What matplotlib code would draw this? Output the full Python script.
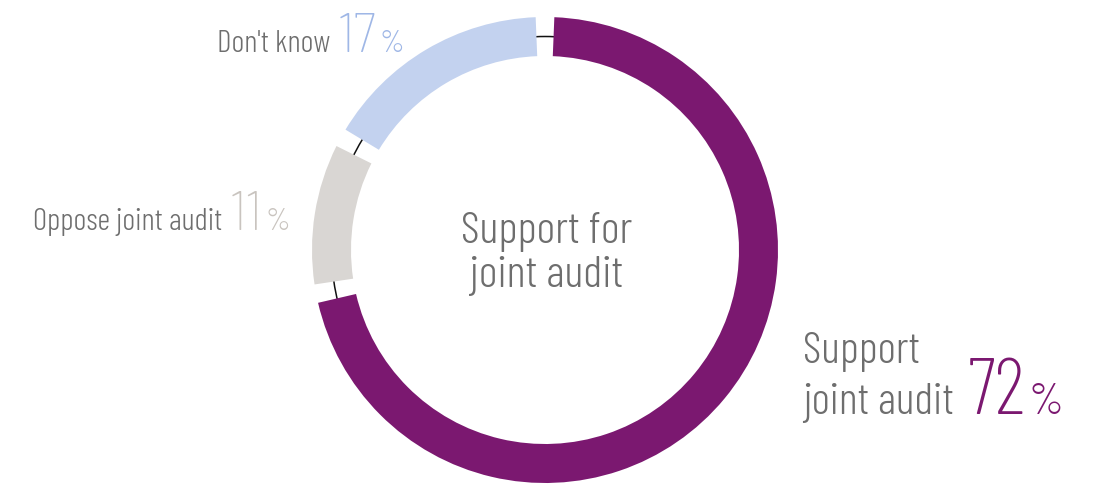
import matplotlib
matplotlib.use("Agg")
import matplotlib.pyplot as plt
from matplotlib.patches import Circle

# Data
labels = [["Support", "joint audit"], ["Oppose joint audit"], ["Don't know"]]
values = [72, 11, 17]
colors = ["#7B1870", "#D9D6D3", "#C3D2EF"]
num_colors = ["#7B1870", "#C9C4BF", "#9FB7E6"]
center_label = ["Support for", "joint audit"]

FONT = "Barlow Condensed"
NUM_FONT = "Barlow Semi Condensed"
GRAY = "#6E6E6E"
H = 486

fig = plt.figure(figsize=(11, 4.86), dpi=100)
ax = fig.add_axes([0, 0, 1, 1])

cx, cy, r_out, ring = 545, H - 250, 233, 39

# thin black circle behind the ring, visible in the gaps
ax.add_patch(Circle((cx, cy), r_out - ring / 2, fill=False, lw=1.1, ec="#111111", zorder=1))

wedges, _ = ax.pie(values, colors=colors, startangle=90, counterclock=False,
                   center=(cx, cy), radius=r_out, frame=True,
                   wedgeprops=dict(width=ring, linewidth=0))
gap = 4.6  # degrees
for w in wedges:
    w.set_theta1(w.theta1 + gap / 2)
    w.set_theta2(w.theta2 - gap / 2)
    w.set_zorder(2)
ax.set_xlim(0, 1100)
ax.set_ylim(0, H)
ax.set_aspect("equal")
ax.axis("off")

# centre text
for line, yb in zip(center_label, [243, 287]):
    ax.text(cx + 2, H - yb, line, ha="center", va="baseline", fontsize=32.5,
            family=FONT, weight=300, color=GRAY)

fig.canvas.draw()
renderer = fig.canvas.get_renderer()


def right_edge(t):
    bb = t.get_window_extent(renderer)
    return ax.transData.inverted().transform((bb.x1, 0))[0]


def put_label(lines, x, ys, pct, color, lsize, nsize, gap1=7, nfont=NUM_FONT, nweight=250):
    t = None
    for line, y in zip(lines, ys):
        t = ax.text(x, H - y, line, ha="left", va="baseline", fontsize=lsize,
                    family=FONT, weight=300, color=GRAY)
    y = ys[-1]
    n = ax.text(right_edge(t) + gap1, H - y, str(pct), ha="left", va="baseline",
                fontsize=nsize, family=nfont, weight=nweight, color=color)
    ax.text(right_edge(n) + 3, H - y, "%", ha="left", va="baseline", fontsize=lsize,
            family=FONT, weight=300, color=color)


put_label(labels[2], 217, [52], values[2], num_colors[2], 22.5, 40)
put_label(labels[1], 33, [230], values[1], num_colors[1], 22.5, 40)
put_label(labels[0], 803, [363, 414], values[0], num_colors[0], 32, 57, gap1=14,
          nfont=FONT, nweight=275)

fig.savefig("out.png", dpi=100)
